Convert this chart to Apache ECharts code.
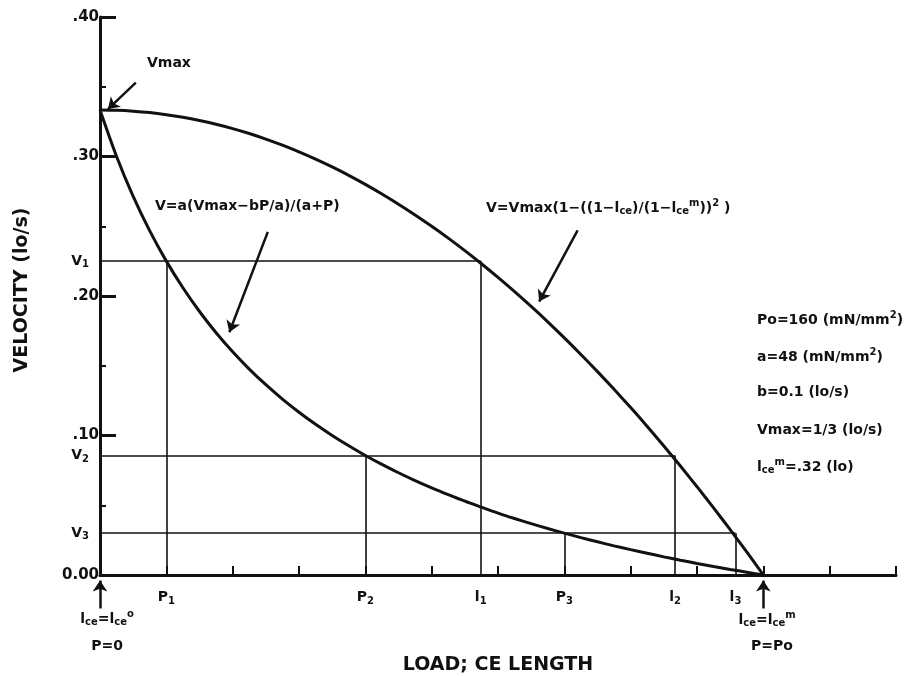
<!DOCTYPE html>
<html><head><meta charset="utf-8">
<script src="https://cdn.jsdelivr.net/npm/echarts@6/dist/echarts.min.js"></script>
<style>html,body{margin:0;padding:0;background:#fff}#c{width:921px;height:676px}</style>
</head><body><div id="c"></div>
<script>
// x in load units (1 unit = 16 mN/mm^2, Po = 10 units)
const loadX = [0,0.25,0.5,0.75,1,1.25,1.5,1.75,2,2.25,2.5,2.75,3,3.25,3.5,3.75,4,4.25,4.5,4.75,5,
  5.25,5.5,5.75,6,6.25,6.5,6.75,7,7.25,7.5,7.75,8,8.25,8.5,8.75,9,9.25,9.5,9.75,10];
const hillV = [0.3333,0.3000,0.2714,0.2467,0.2250,0.2059,0.1889,0.1737,0.1600,0.1476,0.1364,0.1261,0.1167,0.1080,0.1000,0.0926,0.0857,0.0793,0.0733,0.0677,0.0625,
  0.0576,0.0529,0.0486,0.0444,0.0405,0.0368,0.0333,0.0300,0.0268,0.0238,0.0209,0.0182,0.0156,0.0130,0.0106,0.0083,0.0061,0.0040,0.0020,0.0000];
const lengthV = [0.3333,0.3331,0.3325,0.3315,0.3300,0.3281,0.3258,0.3231,0.3200,0.3165,0.3125,0.3081,0.3033,0.2981,0.2925,0.2865,0.2800,0.2731,0.2658,0.2581,0.2500,
  0.2415,0.2325,0.2231,0.2133,0.2031,0.1925,0.1815,0.1700,0.1581,0.1458,0.1331,0.1200,0.1065,0.0925,0.0781,0.0633,0.0481,0.0325,0.0165,0.0000];
const vLevels = [0.225,0.0857,0.030];
const vNames = ['V1','V2','V3'];
const loadPos = [1,4,7];
const loadNames = ['P1','P2','P3'];
const lenPos = [5.74,8.67,9.58];
const lenNames = ['l1','l2','l3'];
const arrowFrom = [[0.54,0.353],[2.53,0.246],[7.2,0.247],[0,-0.024],[10,-0.024]];
const arrowTo = [[0.12,0.334],[1.95,0.174],[6.62,0.196],[0,-0.004],[10,-0.004]];

const FONT = 'DejaVu Sans';
const INK = '#111';
const subRich = {
  s: {fontSize: 10, fontWeight: 'bold', fontFamily: FONT, color: INK, padding: [7,0,0,0]},
  p: {fontSize: 10, fontWeight: 'bold', fontFamily: FONT, color: INK, padding: [0,0,9,0]}
};
function sub(name){ return name[0] + '{s|' + name.slice(1) + '}'; }

const refLines = [];
vLevels.forEach((v,i)=>{
  refLines.push({coords: [[0,v],[lenPos[i],v]]});
  refLines.push({coords: [[loadPos[i],0],[loadPos[i],v]]});
  refLines.push({coords: [[lenPos[i],0],[lenPos[i],v]]});
});

const chart = echarts.init(document.getElementById('c'));
function txt(x,y,text,opts){
  opts = opts || {};
  return {type:'text', x:x, y:y, rotation: opts.rotation||0, z:100,
    style:{text:text, fill:INK, font:'bold '+(opts.size||15)+'px "'+FONT+'"',
      align: opts.align||'left', verticalAlign:'middle', rich: subRich}};
}
const labelBase = {show:true, color:INK, opacity:1, fontFamily:FONT, fontWeight:'bold', fontSize:14, rich: subRich};
chart.setOption({
  animation:false,
  backgroundColor:'#fff',
  grid:{left:100, right:25, top:17, bottom:101},
  xAxis:{type:'value', min:0, max:12, interval:1,
    axisLine:{show:true, onZero:false, lineStyle:{color:INK, width:3}},
    axisTick:{show:true, inside:true, length:9, lineStyle:{color:INK, width:2}},
    axisLabel:{show:false}, splitLine:{show:false}},
  yAxis:{type:'value', min:0, max:0.4, interval:0.1,
    axisLine:{show:true, lineStyle:{color:INK, width:3}},
    axisTick:{show:true, inside:true, length:16, lineStyle:{color:INK, width:3}},
    minorTick:{show:true, splitNumber:2, length:6, lineStyle:{color:INK, width:2}},
    axisLabel:{margin:1, color:INK, fontFamily:FONT, fontWeight:'bold', fontSize:15,
      formatter: v => v===0 ? '0.00' : '.' + Math.round(v*100)},
    splitLine:{show:false}},
  series:[
    {type:'line', data: loadX.map((x,i)=>[x, hillV[i]]), smooth:0.3, showSymbol:false,
      lineStyle:{color:INK, width:3}},
    {type:'line', data: loadX.map((x,i)=>[x, lengthV[i]]), smooth:0.3, showSymbol:false,
      lineStyle:{color:INK, width:3}},
    {type:'lines', coordinateSystem:'cartesian2d', data: refLines,
      lineStyle:{color:INK, width:1.6, opacity:1}},
    {type:'lines', coordinateSystem:'cartesian2d', clip:false,
      data: arrowFrom.map((f,i)=>({coords:[f, arrowTo[i]]})),
      symbol:['none','arrow'], symbolSize:11,
      lineStyle:{color:INK, width:2.5, opacity:1}},
    {type:'scatter', symbolSize:0, silent:true, itemStyle:{opacity:1},
      data: loadPos.map((x,i)=>({value:[x,0], name:loadNames[i]}))
        .concat(lenPos.map((x,i)=>({value:[x,0], name:lenNames[i]}))),
      label:Object.assign({position:'bottom', distance:14, formatter: p=>sub(p.name)}, labelBase)},
    {type:'scatter', symbolSize:0, silent:true, itemStyle:{opacity:1},
      data: vLevels.map((v,i)=>({value:[0,v], name:vNames[i]})),
      label:Object.assign({position:'left', distance:11, formatter: p=>sub(p.name)}, labelBase)}
  ],
  graphic:[
    txt(147,63,'Vmax',{size:14}),
    txt(155,206,'V=a(Vmax−bP/a)/(a+P)',{size:14}),
    txt(486,208,'V=Vmax(1−((1−l{s|ce})/(1−l{s|ce}{p|m})){p|2} )',{size:14}),
    txt(757,320,'Po=160 (mN/mm{p|2})',{size:14}),
    txt(757,357,'a=48 (mN/mm{p|2})',{size:14}),
    txt(757,392,'b=0.1 (lo/s)',{size:14}),
    txt(757,430,'Vmax=1/3 (lo/s)',{size:14}),
    txt(757,467,'l{s|ce}{p|m}=.32 (lo)',{size:14}),
    txt(107,619,'l{s|ce}=l{s|ce}{p|o}',{size:14, align:'center'}),
    txt(107,646,'P=0',{size:14, align:'center'}),
    txt(767,620,'l{s|ce}=l{s|ce}{p|m}',{size:14, align:'center'}),
    txt(772,646,'P=Po',{size:14, align:'center'}),
    txt(498,665,'LOAD; CE LENGTH',{size:19, align:'center'}),
    txt(22,290,'VELOCITY (lo/s)',{size:19, align:'center', rotation:Math.PI/2})
  ]
});
</script></body></html>
